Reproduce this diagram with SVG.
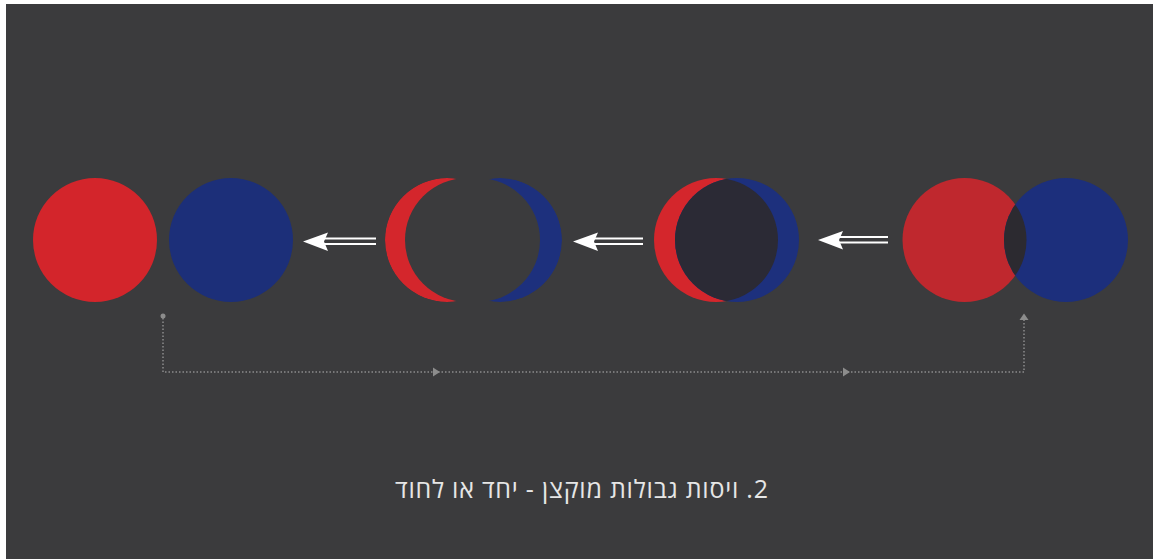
<svg xmlns="http://www.w3.org/2000/svg" width="1153" height="559" viewBox="0 0 1153 559">
<defs>
<style>
.red1{fill:#d3252b}
.blue1{fill:#1c2f79}
.red2{fill:#d4262c}
.blue2{fill:#1d307d}
.red3{fill:#bf282e}
.blue3{fill:#1c2f7c}
.arrowline{stroke:#ffffff;stroke-width:2;fill:none}
.arrowhead{fill:#ffffff}
.dotted{stroke:#8c8c8c;stroke-width:1.5;stroke-dasharray:1.5 2;fill:none}
.mark{fill:#8c8c8c}
.caption{font-family:"Open Sans","Noto Sans",sans-serif;font-size:25px;fill:#e6e6e6}
</style>
<mask id="m-red-crescent">
<circle cx="447" cy="240" r="62" fill="#fff"/>
<circle cx="467" cy="240" r="62" fill="#000"/>
</mask>
<mask id="m-blue-crescent">
<circle cx="500" cy="240" r="62" fill="#fff"/>
<circle cx="478" cy="240" r="62" fill="#000"/>
</mask>
<clipPath id="c-red3">
<circle cx="716" cy="240" r="62"/>
</clipPath>
<clipPath id="c-red4">
<circle cx="964.5" cy="240" r="62"/>
</clipPath>
</defs>
<rect x="0" y="0" width="1153" height="559" fill="#ffffff"/>
<rect x="6" y="4" width="1147" height="555" fill="#3b3b3d"/>

<g id="pair-apart">
<circle class="red1" cx="95" cy="240" r="62"/>
<circle class="blue1" cx="231" cy="240" r="62"/>
</g>

<g id="pair-crescents">
<circle class="red2" cx="447" cy="240" r="62" mask="url(#m-red-crescent)"/>
<circle class="blue2" cx="500" cy="240" r="62" mask="url(#m-blue-crescent)"/>
</g>

<g id="pair-overlap-full">
<circle class="red2" cx="716" cy="240" r="62"/>
<circle class="blue2" cx="737" cy="240" r="62"/>
<circle fill="#2b2a35" cx="737" cy="240" r="62" clip-path="url(#c-red3)"/>
</g>

<g id="pair-overlap-partial">
<circle class="red3" cx="964.5" cy="240" r="62"/>
<circle class="blue3" cx="1066" cy="240" r="62"/>
<circle fill="#2c2a30" cx="1066" cy="240" r="62" clip-path="url(#c-red4)"/>
</g>

<g id="connectors">
<g id="arrow-1">
<line class="arrowline" x1="324" y1="238.5" x2="376" y2="238.5"/>
<line class="arrowline" x1="324" y1="244" x2="376" y2="244"/>
<path class="arrowhead" d="M303 241.5 L328 232.5 L324 241.5 L328 251 Z"/>
</g>
<g id="arrow-2">
<line class="arrowline" x1="594" y1="238.5" x2="643" y2="238.5"/>
<line class="arrowline" x1="594" y1="244" x2="643" y2="244"/>
<path class="arrowhead" d="M573 241.5 L598 232.5 L594 241.5 L598 251 Z"/>
</g>
<g id="arrow-3">
<line class="arrowline" x1="839" y1="237" x2="888" y2="237"/>
<line class="arrowline" x1="839" y1="242.5" x2="888" y2="242.5"/>
<path class="arrowhead" d="M818 240 L843 231 L839 240 L843 249.5 Z"/>
</g>
<g id="cycle-line">
<circle class="mark" cx="163" cy="316" r="2.5"/>
<polyline class="dotted" points="163,318 163,372 1024,372 1024,320"/>
<path class="mark" d="M433 367.5 L440 372 L433 376.5 Z"/>
<path class="mark" d="M843 367.5 L850 372 L843 376.5 Z"/>
<path class="mark" d="M1019.5 320 L1024 313.5 L1028.5 320 Z"/>
</g>
</g>

<g id="caption">
<text class="caption" x="581.5" y="498" direction="rtl" text-anchor="middle" textLength="373" lengthAdjust="spacing">2. ויסות גבולות מוקצן - יחד או לחוד</text>
</g>
</svg>
